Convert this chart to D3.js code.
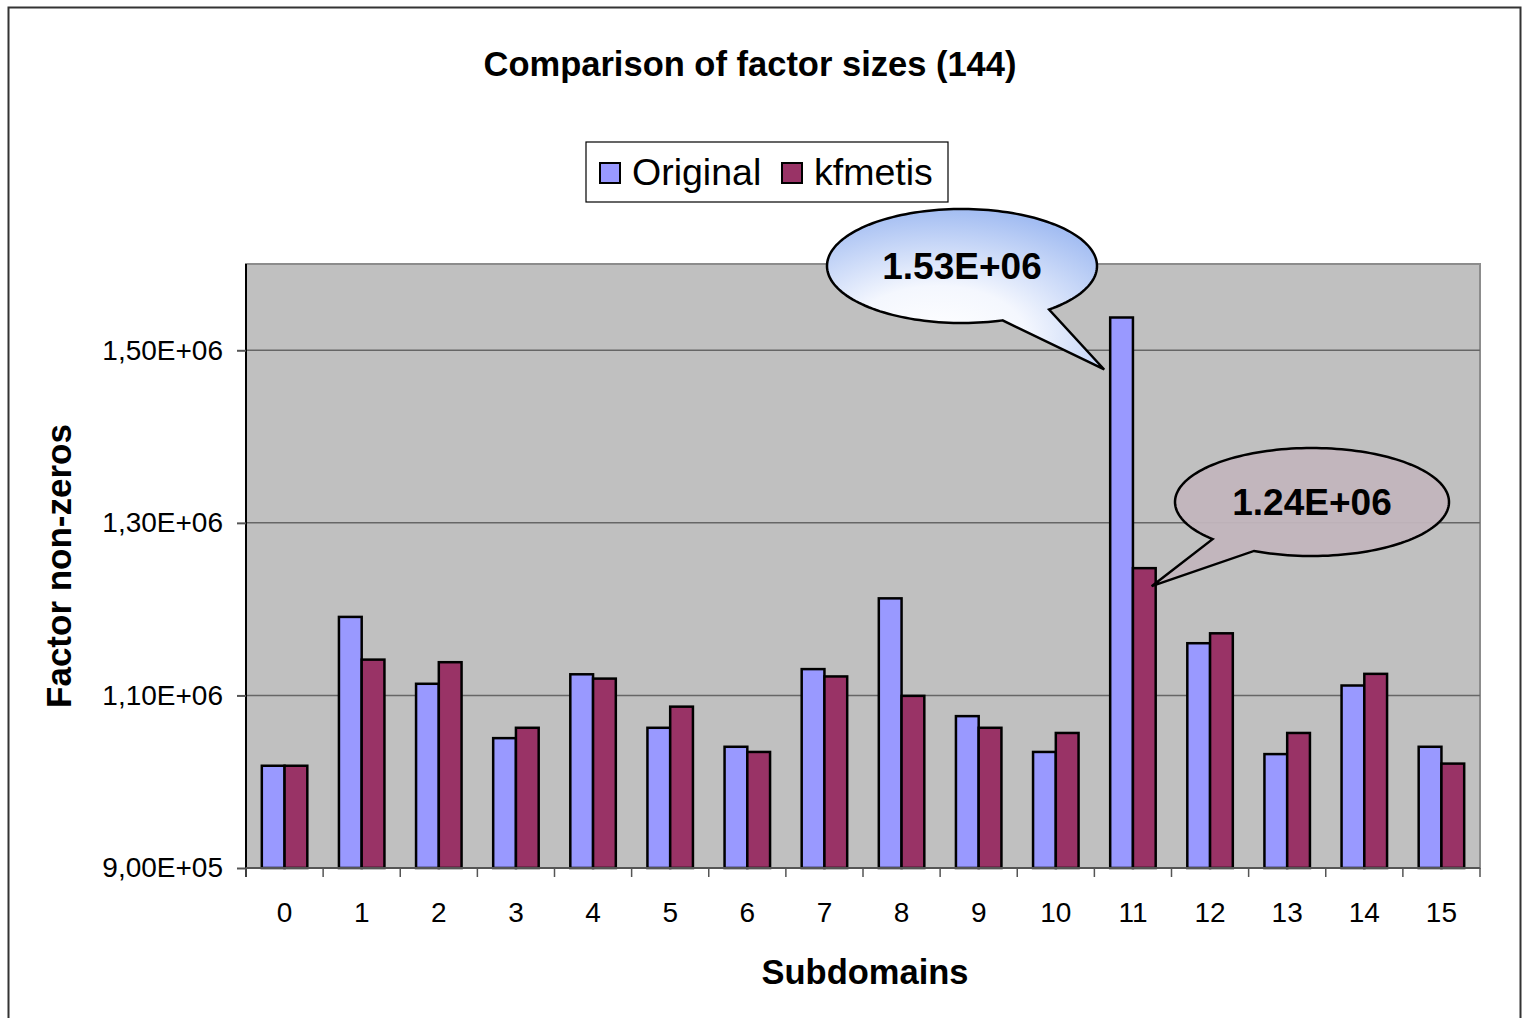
<!DOCTYPE html>
<html>
<head>
<meta charset="utf-8">
<script src="https://cdn.jsdelivr.net/npm/d3@7"></script>
<style>
body { margin: 0; background: #fff; }
text { font-family: "Liberation Sans", Arial, sans-serif; }
</style>
</head>
<body>
<div class="chart"></div>
<script>
var subdomains = ["0","1","2","3","4","5","6","7","8","9","10","11","12","13","14","15"];
var original = [1018500, 1191000, 1113500, 1050500, 1124500, 1062500, 1040500, 1130500, 1212500, 1076000, 1034500, 1538000, 1160500, 1032000, 1111500, 1040500];
var kfmetis  = [1018500, 1141500, 1138500, 1062500, 1119500, 1087000, 1034500, 1122000, 1099500, 1062500, 1056500, 1247500, 1172000, 1056500, 1125000, 1021000];
var seriesNames = ["Original", "kfmetis"];
var seriesColors = ["#9999ff", "#993366"];
var yTicks = [900000, 1100000, 1300000, 1500000];

var W = 1522, H = 1018;
var margin = {top: 264, right: 42, bottom: 150, left: 246};
var width = W - margin.left - margin.right;
var height = H - margin.top - margin.bottom;

var svg = d3.select(".chart").append("svg")
	.attr("width", W)
	.attr("height", H);

// outer frame
svg.append("rect")
	.attr("x", 8.5).attr("y", 7.5)
	.attr("width", 1512).attr("height", 1030)
	.attr("fill", "none").attr("stroke", "#333").attr("stroke-width", 2);

var x0 = d3.scaleBand().domain(subdomains).range([0, width]).paddingInner(0.41).paddingOuter(0.205);
var xCat = d3.scaleBand().domain(subdomains).range([0, width]);
var x1 = d3.scaleBand().domain(seriesNames).range([0, x0.bandwidth()]);
var y = d3.scaleLinear().domain([900000, 1600000]).range([height, 0]);

var g = svg.append("g").attr("transform", "translate(" + margin.left + "," + margin.top + ")");

g.append("rect")
	.attr("width", width).attr("height", height)
	.attr("fill", "#c0c0c0")
	.attr("stroke", "#8c8c8c").attr("stroke-width", 2);

// gridlines
g.selectAll(".grid").data(yTicks.slice(1)).enter().append("line")
	.attr("class", "grid")
	.attr("x1", 0).attr("x2", width)
	.attr("y1", function(d){ return y(d); })
	.attr("y2", function(d){ return y(d); })
	.attr("stroke", "#666").attr("stroke-width", 1.5);

// bars
var groups = g.selectAll(".group").data(subdomains).enter().append("g")
	.attr("class", "group")
	.attr("transform", function(d){ return "translate(" + x0(d) + ",0)"; });

groups.selectAll("rect").data(function(d, i){
		return [{s: seriesNames[0], v: original[i], c: seriesColors[0]},
		        {s: seriesNames[1], v: kfmetis[i], c: seriesColors[1]}];
	}).enter().append("rect")
	.attr("x", function(d){ return x1(d.s); })
	.attr("width", x1.bandwidth())
	.attr("y", function(d){ return y(d.v); })
	.attr("height", function(d){ return height - y(d.v); })
	.attr("fill", function(d){ return d.c; })
	.attr("stroke", "#000").attr("stroke-width", 2.5);

// y axis
var yAxis = g.append("g")
	.call(d3.axisLeft(y).tickValues(yTicks).tickSize(9).tickPadding(14)
		.tickFormat(function(d){ return d3.format(".2e")(d).replace(".", ",").replace("e+", "E+0"); }));
yAxis.select(".domain").attr("stroke", "#000").attr("stroke-width", 2).attr("d", "M0,0V" + (height + 9));
yAxis.selectAll(".tick line").attr("stroke", "#555").attr("stroke-width", 2);
yAxis.selectAll(".tick text").attr("font-size", 28).attr("fill", "#000")
	.style("font-family", "'Liberation Sans', Arial, sans-serif");

// x axis
var xAxis = g.append("g").attr("transform", "translate(0," + height + ")")
	.call(d3.axisBottom(xCat).tickSize(0).tickPadding(34));
xAxis.select(".domain").attr("stroke", "#555").attr("stroke-width", 2).attr("d", "M0,0H" + width);
xAxis.selectAll(".tick text").attr("font-size", 28).attr("fill", "#000")
	.style("font-family", "'Liberation Sans', Arial, sans-serif");
g.selectAll(".xtick").data(d3.range(subdomains.length + 1)).enter().append("line")
	.attr("class", "xtick")
	.attr("x1", function(i){ return i * xCat.step(); })
	.attr("x2", function(i){ return i * xCat.step(); })
	.attr("y1", height).attr("y2", height + 9)
	.attr("stroke", "#555").attr("stroke-width", 1.5);

// titles
svg.append("text").attr("x", 750).attr("y", 76).attr("text-anchor", "middle")
	.attr("font-size", 34.5).attr("font-weight", "bold").text("Comparison of factor sizes (144)");
svg.append("text").attr("x", 865).attr("y", 984).attr("text-anchor", "middle")
	.attr("font-size", 34.5).attr("font-weight", "bold").text("Subdomains");
svg.append("text").attr("transform", "translate(71,566) rotate(-90)").attr("text-anchor", "middle")
	.attr("font-size", 35).attr("font-weight", "bold").text("Factor non-zeros");

// legend
var legend = svg.append("g").attr("transform", "translate(586,142)");
legend.append("rect").attr("width", 362).attr("height", 60)
	.attr("fill", "#fff").attr("stroke", "#000").attr("stroke-width", 1.2);
var legX = [13, 195];
seriesNames.forEach(function(name, i){
	legend.append("rect").attr("x", legX[i] + 1).attr("y", 21).attr("width", 20).attr("height", 20)
		.attr("fill", seriesColors[i]).attr("stroke", "#000").attr("stroke-width", 2);
	legend.append("text").attr("x", legX[i] + 33).attr("y", 43)
		.attr("font-size", 37.5).text(name);
});

// callouts
var defs = svg.append("defs");
var grad = defs.append("radialGradient").attr("id", "blueGrad")
	.attr("cx", "40%").attr("cy", "80%").attr("r", "80%");
grad.append("stop").attr("offset", "0%").attr("stop-color", "#ffffff");
grad.append("stop").attr("offset", "40%").attr("stop-color", "#f4f7fe");
grad.append("stop").attr("offset", "100%").attr("stop-color", "#a3bdf2");

function callout(cx, cy, rx, ry, tail, fill, label, opacity) {
	var c = svg.append("g");
	// ellipse outline from one tail base round to the other, then out to the tip
	var start = Math.atan2((tail[0][1] - cy) / ry, (tail[0][0] - cx) / rx);
	var end = Math.atan2((tail[2][1] - cy) / ry, (tail[2][0] - cx) / rx);
	while (end <= start) end += 2 * Math.PI;
	var pts = [];
	var steps = 160;
	for (var k = 0; k <= steps; k++) {
		var a = start + (end - start) * k / steps;
		pts.push([cx + rx * Math.cos(a), cy + ry * Math.sin(a)]);
	}
	pts.push(tail[1]);
	c.append("path")
		.attr("d", d3.line()(pts) + "Z")
		.attr("fill", fill).attr("fill-opacity", opacity)
		.attr("stroke", "#000").attr("stroke-width", 2.5).attr("stroke-linejoin", "miter");
	c.append("text").attr("x", cx).attr("y", cy + 13).attr("text-anchor", "middle")
		.attr("font-size", 37).attr("font-weight", "bold").text(label);
}

var bar11 = subdomains.indexOf("11");
var tipO = [margin.left + x0("11") + x1("Original") - 6, margin.top + y(original[bar11]) + 52];
var tipK = [margin.left + x0("11") + x1("kfmetis") + x1.bandwidth() - 4, margin.top + y(kfmetis[bar11]) + 18];

callout(962, 266, 135, 57, [[1003, 321], tipO, [1050, 310]], "url(#blueGrad)", "1.53E+06", 1);
callout(1312, 502, 137, 54, [[1213, 539], tipK, [1254, 551]], "#c2b5bd", "1.24E+06", 0.95);
</script>
</body>
</html>
